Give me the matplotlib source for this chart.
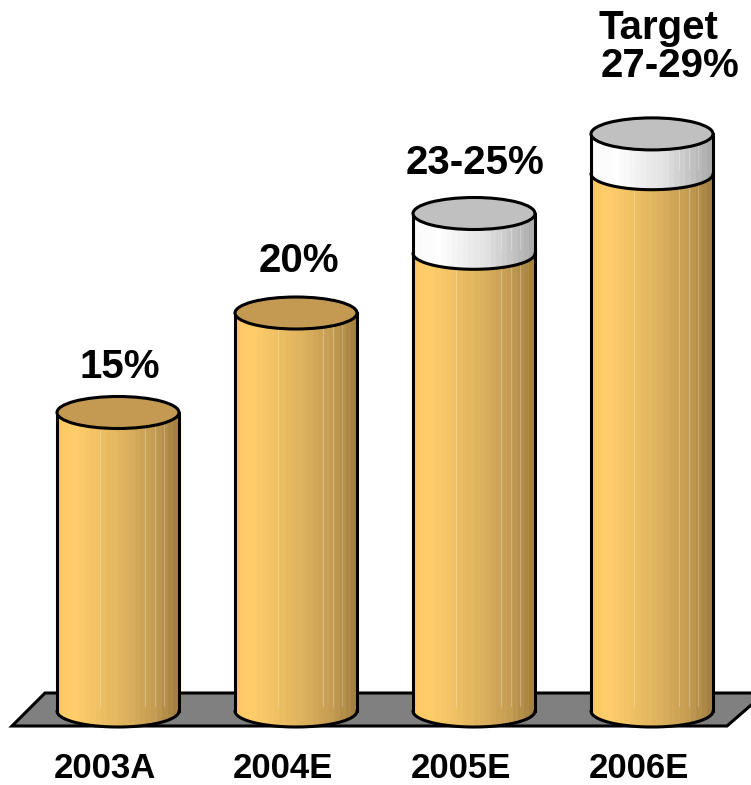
import matplotlib.pyplot as plt
import numpy as np
from matplotlib.patches import Polygon, Ellipse

years = ["2003A", "2004E", "2005E", "2006E"]
low = [15, 20, 23, 27]
high = [15, 20, 25, 29]
labels = ["15%", "20%", "23-25%", "27-29%"]

K = 19.9          # pixels per percent
BASE = 711        # pixel row of the floor level
RX = 61           # cylinder half width, px
RY = 16 / K       # ellipse half height in value units


def py(p):
    return (BASE - p) / K


fig = plt.figure(figsize=(7.51, 7.85), dpi=100)
ax = fig.add_axes([0, 0, 1, 1])
ax.set_xlim(0, 751)
ax.set_ylim(py(785), py(0))
ax.axis("off")

# floor
floor = Polygon([(12, py(726)), (45, py(693)), (765, py(693)), (727, py(726))],
                closed=True, facecolor="#808080", edgecolor="black", lw=2.2, zorder=1)
ax.add_patch(floor)


def ramp(stops, n=22):
    t = (np.arange(n) + 0.5) / n
    pos = [s[0] for s in stops]
    cols = np.array([[np.interp(tt, pos, [s[1][c] for s in stops]) for c in range(3)] for tt in t])
    return (cols / 255.0)[None, :, :]


orange = ramp([(0, (252, 200, 100)), (0.15, (255, 206, 106)), (0.55, (222, 178, 94)),
               (0.8, (196, 156, 82)), (1, (160, 126, 64))])
white = ramp([(0, (250, 250, 250)), (0.2, (255, 255, 255)), (0.6, (226, 226, 226)),
              (1, (170, 170, 170))])

th_low = np.linspace(np.pi, 2 * np.pi, 60)


def body(cx, y0, y1, grad, z):
    xs = cx + RX * np.cos(th_low)
    bot = y0 + RY * np.sin(th_low)
    top = y1 + RY * np.sin(th_low)
    pts = [(cx - RX, y1)] + list(zip(xs, bot)) + [(cx + RX, y1)] + list(zip(xs[::-1], top[::-1]))
    poly = Polygon(pts, closed=True, facecolor="none", edgecolor="none", zorder=z)
    ax.add_patch(poly)
    im = ax.imshow(grad, extent=[cx - RX, cx + RX, y0 - RY, y1 + RY], aspect="auto",
                   interpolation="nearest", zorder=z)
    im.set_clip_path(poly)
    # outline: sides + lower front edge
    ax.plot([cx - RX, cx - RX], [y1, y0], color="black", lw=2.2, zorder=z + 1)
    ax.plot([cx + RX, cx + RX], [y1, y0], color="black", lw=2.2, zorder=z + 1)
    ax.plot(xs, bot, color="black", lw=2.2, zorder=z + 1, solid_capstyle="round")
    # faint streaks
    for f in [0.35, 0.72, 0.8, 0.88]:
        ax.plot([cx - RX + 2 * RX * f] * 2, [y0 + RY * 0.3, y1 - RY * 0.3],
                color="white", alpha=0.25, lw=0.8, zorder=z + 1)


centers = [118 + 178 * i for i in range(len(years))]
lab_dx = [2, 3, 1, 18]
lab_gap = [18, 25, 23, 41]

for i, cx in enumerate(centers):
    body(cx, 0, low[i], orange, 3)
    if high[i] > low[i]:
        body(cx, low[i], high[i], white, 5)
        top_col = "#C0C0C0"
    else:
        top_col = "#C49A52"
    ax.add_patch(Ellipse((cx, high[i]), 2 * RX, 2 * RY, facecolor=top_col,
                         edgecolor="black", lw=2.2, zorder=8))
    ax.text(cx + lab_dx[i], high[i] + RY + lab_gap[i] / K, labels[i], ha="center", va="baseline",
            fontsize=29, fontweight="bold", family="Liberation Sans", zorder=9)
    ax.text(cx - 13, py(778), years[i], ha="center", va="baseline",
            fontsize=25, fontweight="bold", family="Liberation Sans")

ax.text(centers[3] + 6, py(39), "Target", ha="center", va="baseline",
        fontsize=29, fontweight="bold", family="Liberation Sans")

fig.savefig("out.png", dpi=100)
